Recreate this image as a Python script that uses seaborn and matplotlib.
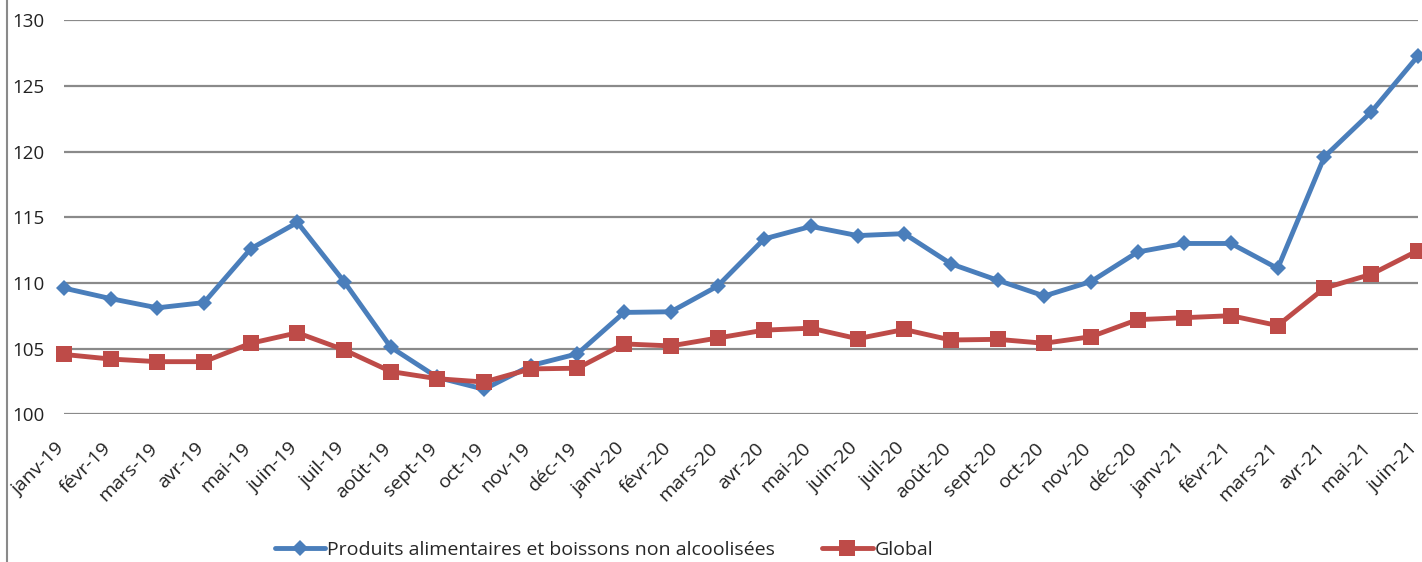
import matplotlib
matplotlib.use("Agg")
import matplotlib.pyplot as plt
import matplotlib.transforms as mtransforms
import seaborn as sns
import pandas as pd
from matplotlib.lines import Line2D

months = ["janv-19", "févr-19", "mars-19", "avr-19", "mai-19", "juin-19", "juil-19",
          "août-19", "sept-19", "oct-19", "nov-19", "déc-19",
          "janv-20", "févr-20", "mars-20", "avr-20", "mai-20", "juin-20", "juil-20",
          "août-20", "sept-20", "oct-20", "nov-20", "déc-20",
          "janv-21", "févr-21", "mars-21", "avr-21", "mai-21", "juin-21"]

alimentaires = [109.6, 108.8, 108.1, 108.5, 112.6, 114.6, 110.1, 105.1, 102.8, 101.9,
                103.7, 104.6, 107.75, 107.8, 109.75, 113.35, 114.3, 113.6, 113.75, 111.45,
                110.2, 109.0, 110.1, 112.35, 113.0, 113.0, 111.1, 119.6, 123.0, 127.25]

global_idx = [104.55, 104.2, 104.0, 104.0, 105.4, 106.2, 104.9, 103.25, 102.7, 102.45,
              103.45, 103.5, 105.35, 105.2, 105.8, 106.4, 106.55, 105.75, 106.45, 105.65,
              105.7, 105.4, 105.9, 107.2, 107.35, 107.5, 106.75, 109.6, 110.65, 112.45]

yticks = [100, 105, 110, 115, 120, 125, 130]

label_a = "Produits alimentaires et boissons non alcoolisées"
label_g = "Global"

df = pd.DataFrame({"x": list(range(len(months))), "a": alimentaires, "g": global_idx})

sns.set_theme(style="white")
plt.rcParams["font.family"] = ["Open Sans", "DejaVu Sans"]

fig = plt.figure(figsize=(14.22, 5.62), dpi=100)
ax = fig.add_axes([0.045, 0.263, 0.952, 0.701])

blue = "#4a7ebb"
red = "#be4b48"

sns.lineplot(data=df, x="x", y="a", ax=ax, color=blue, linewidth=3.5,
             marker="D", markersize=8.5, markeredgewidth=0, label=label_a, zorder=3)
sns.lineplot(data=df, x="x", y="g", ax=ax, color=red, linewidth=3.5,
             marker="s", markersize=12, markeredgewidth=0, label=label_g, zorder=4)

ax.set_xlim(0, len(months) - 1)
ax.set_ylim(100, 130)
ax.set_yticks(yticks)
ax.set_yticklabels([str(v) for v in yticks], fontsize=13.5, color="#222222")
ax.set_xticks(list(range(len(months))))
ax.set_xticklabels(months, rotation=45, ha="right", va="top", rotation_mode="anchor",
                   fontsize=14, color="#222222")
ax.tick_params(axis="y", length=0, pad=14)
ax.tick_params(axis="x", length=0, pad=18)
shift = mtransforms.ScaledTranslation(-9 / 100, 0, fig.dpi_scale_trans)
for lab in ax.get_xticklabels():
    lab.set_transform(lab.get_transform() + shift)
ax.set_xlabel("")
ax.set_ylabel("")
ax.grid(axis="y", color="#8a8a8a", linewidth=1.6)
ax.grid(axis="x", visible=False)
for s in ax.spines.values():
    s.set_visible(False)
for ln in ax.lines:
    ln.set_clip_on(False)

leg = ax.legend(loc="center", ncol=2, frameon=False, fontsize=14, handlelength=2.6,
                columnspacing=2.4, handletextpad=0.1)
leg.set_bbox_to_anchor((604 / 1422, 1 - 550 / 562), transform=fig.transFigure)

fig.add_artist(Line2D([7 / 1422, 7 / 1422], [0, 1], transform=fig.transFigure,
                      color="#8a8a8a", linewidth=1.5))

fig.savefig("out.png", dpi=100)
